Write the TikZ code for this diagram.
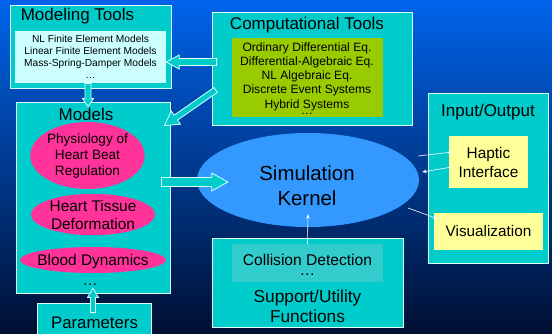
\documentclass[tikz,border=0pt]{standalone}
\usepackage{fontspec}
\setmainfont{Liberation Sans}
\usetikzlibrary{shapes.geometric,calc,arrows.meta}
\definecolor{bgtop}{RGB}{0,100,235}
\definecolor{bgmid}{RGB}{0,58,165}
\definecolor{bgbot}{RGB}{0,15,50}
\definecolor{tealbox}{RGB}{0,204,204}
\definecolor{lightcyan}{RGB}{204,255,255}
\definecolor{olive}{RGB}{153,204,0}
\definecolor{pinkell}{RGB}{255,51,153}
\definecolor{kernelblue}{RGB}{51,153,255}
\definecolor{paleyellow}{RGB}{255,255,153}
\definecolor{innerteal}{RGB}{51,204,204}
\definecolor{rim}{RGB}{215,255,255}
\tikzset{
  outerbox/.style={rectangle, fill=tealbox, draw=rim, line width=0.8pt, inner sep=0pt},
  flatbox/.style={rectangle, draw=none, inner sep=0pt},
  txt/.style={inner sep=0pt, align=center, text=black},
  pinkellipse/.style={ellipse, fill=pinkell, draw=none, inner sep=0pt, align=center},
  blockarr/.style={fill=tealbox, draw=rim, line width=0.8pt, line join=miter},
  thinarr/.style={draw=white, line width=0.6pt, -{Stealth[length=4.5pt,width=3.5pt]}},
}
% #1 start, #2 tip, #3 shaft half width, #4 head half width, #5 head length
\newcommand\blockarrow[5]{%
  \coordinate (ba-h) at ($(#2)!#5!(#1)$);
  \filldraw[blockarr] ($(#1)!#3!90:(#2)$) -- ($(ba-h)!#3!90:(#2)$) -- ($(ba-h)!#4!90:(#2)$) -- (#2)
    -- ($(ba-h)!#4!-90:(#2)$) -- ($(ba-h)!#3!-90:(#2)$) -- ($(#1)!#3!-90:(#2)$) -- cycle;}
\begin{document}
\begin{tikzpicture}[x=1pt,y=-1pt]
\useasboundingbox (0,0) rectangle (552,333);
\clip (0,0) rectangle (552,333);
\shade[top color=bgtop, middle color=bgmid, bottom color=bgbot] (0,0) rectangle (552,333);

% Modeling Tools
\node[outerbox, minimum width=161pt, minimum height=83pt] (modout) at (90.5,46.5) {};
\node[flatbox, fill=lightcyan, minimum width=151pt, minimum height=52pt] (modin) at (90.5,57) {};
\node[txt, font=\fontsize{17}{20}\selectfont] (modtitle) at (77.5,16) {Modeling Tools};
\node[txt, font=\fontsize{10.2}{11.8}\selectfont] (modtext) at (90.5,52) {NL Finite Element Models\\Linear Finite Element Models\\Mass-Spring-Damper Models};
\node[txt, font=\fontsize{10.2}{11.8}\selectfont] (moddots) at (90.5,77.5) {…};

% Computational Tools
\node[outerbox, minimum width=200pt, minimum height=113pt] (comp) at (312,68.5) {};
\node[flatbox, fill=olive, minimum width=151pt, minimum height=79pt] (compin) at (307.5,77.5) {};
\node[txt, font=\fontsize{17}{20}\selectfont] (comptitle) at (307,25) {Computational Tools};
\node[txt, font=\fontsize{12.1}{14.2}\selectfont] (comptext) at (307,76.5) {Ordinary Differential Eq.\\Differential-Algebraic Eq.\\NL Algebraic Eq.\\Discrete Event Systems\\Hybrid Systems};
\node[txt, font=\fontsize{12.1}{14.2}\selectfont] (compdots) at (307,114) {…};

% Models
\node[outerbox, minimum width=154pt, minimum height=191pt] (models) at (93,197.5) {};
\node[txt, font=\fontsize{17}{20}\selectfont] (modelstitle) at (86,114) {Models};
\node[pinkellipse, minimum width=103pt, minimum height=67pt, font=\fontsize{13.6}{16}\selectfont] (phys) at (87.5,155.5) {Physiology of\\Heart Beat\\Regulation};
\node[pinkellipse, minimum width=124pt, minimum height=39pt, font=\fontsize{15.4}{18}\selectfont] (tissue) at (93,214.5) {Heart Tissue\\Deformation};
\node[pinkellipse, minimum width=146pt, minimum height=26pt, font=\fontsize{15.4}{18}\selectfont] (blood) at (93,260) {};
\node[txt, font=\fontsize{15.4}{18}\selectfont] (bloodtext) at (93,262) {Blood Dynamics};
\node[txt, font=\fontsize{15}{18}\selectfont] (modelsdots) at (90,285) {…};

% Parameters
\node[outerbox, minimum width=114pt, minimum height=40pt] (params) at (94,323) {};
\node[txt, font=\fontsize{16.8}{20}\selectfont] (paramstext) at (94.5,323) {Parameters};

% Simulation Kernel
\node[ellipse, fill=kernelblue, draw=none, minimum width=222pt, minimum height=94pt, inner sep=0pt] (kernel) at (308,180) {};
\node[txt, font=\fontsize{20.4}{25}\selectfont] (kerneltext) at (307,185.5) {Simulation\\Kernel};

% Support/Utility Functions
\node[outerbox, minimum width=191pt, minimum height=89pt] (support) at (307.5,282.5) {};
\node[flatbox, fill=innerteal, minimum width=151pt, minimum height=38pt] (supin) at (307.5,263) {};
\node[txt, font=\fontsize{15.6}{18}\selectfont] (collision) at (307.5,260) {Collision Detection};
\node[txt, font=\fontsize{15.6}{18}\selectfont] (supdots) at (307.5,275) {…};
\node[txt, font=\fontsize{17.3}{20}\selectfont] (suptext) at (307.5,306) {Support/Utility\\Functions};

% Input/Output
\node[outerbox, minimum width=120pt, minimum height=170pt] (io) at (488,178) {};
\node[txt, font=\fontsize{17}{20}\selectfont] (iotitle) at (488,112) {Input/Output};
\node[flatbox, fill=paleyellow, minimum width=79pt, minimum height=52pt, align=center, font=\fontsize{15.4}{19}\selectfont] (haptic) at (488.5,162) {Haptic\\Interface};
\node[flatbox, fill=paleyellow, minimum width=109pt, minimum height=37pt, font=\fontsize{15.3}{18}\selectfont] (vis) at (488.5,231.5) {Visualization};

% Block arrows
\coordinate (a1s) at ([shift={(5,-6.5)}]comp.west);
\coordinate (a1e) at ([shift={(0,5)}]modin.east);
\blockarrow{a1s}{a1e}{3.5pt}{7pt}{13pt}
\coordinate (a2s) at ([shift={(-2.5,-5)}]modout.south);
\coordinate (a2e) at ([shift={(-5,5)}]models.north);
\blockarrow{a2s}{a2e}{3pt}{5.5pt}{8pt}
\coordinate (a3s) at ([shift={(4,21.5)}]comp.west);
\coordinate (a3e) at ([shift={(-6,24)}]models.north east);
\blockarrow{a3s}{a3e}{3pt}{8pt}{14pt}
\coordinate (a4s) at ([shift={(-9,-15.5)}]models.east);
\coordinate (a4e) at ([shift={(31,2)}]kernel.west);
\blockarrow{a4s}{a4e}{4.5pt}{9pt}{16pt}
\coordinate (a5s) at ([shift={(-1,10)}]params.north);
\coordinate (a5e) at ([shift={(0,-5)}]models.south);
\blockarrow{a5s}{a5e}{2.5pt}{5.5pt}{9pt}

% Thin arrows
\draw[thinarr] (supin.north) -- ([shift={(0,-13)}]kernel.south);
\coordinate (t2s) at (418,156);
\draw[thinarr] (t2s) -- ([shift={(4,-10)}]haptic.west);
\draw[thinarr] ([shift={(3,5)}]haptic.west) -- ([shift={(3,-8)}]kernel.east);
\coordinate (t4s) at (408,208);
\draw[thinarr] (t4s) -- ([shift={(4,6)}]vis.north west);
\end{tikzpicture}
\end{document}
